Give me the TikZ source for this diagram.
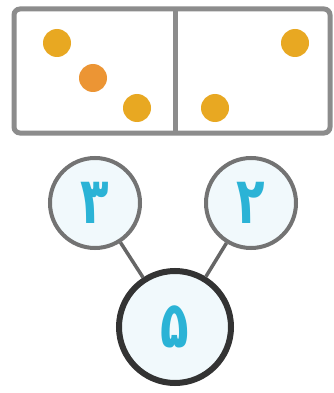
\documentclass[tikz,border=0pt]{standalone}
\usepackage{fontspec}
\newfontfamily\fadigits[Script=Arabic]{DejaVu Sans}
\definecolor{dotgold}{HTML}{E8A822}
\definecolor{dotorange}{HTML}{EC9534}
\definecolor{digitcyan}{HTML}{2BB3D6}
\definecolor{boxgray}{HTML}{8C8C8C}
\definecolor{circfill}{HTML}{F1F9FC}
\newcommand{\fadig}[1]{\scalebox{0.9}[1.25]{#1}}
\begin{document}
\begin{tikzpicture}[x=1pt,y=-1pt,
  dot/.style={circle,fill=#1,minimum size=28pt,inner sep=0pt},
  topcirc/.style={circle,draw=black!55,line width=4pt,fill=circfill,minimum size=90pt,inner sep=0pt,
     font=\fadigits\bfseries\fontsize{52}{52}\selectfont,text=digitcyan},
  botcirc/.style={circle,draw=black!80,line width=6pt,fill=circfill,minimum size=112pt,inner sep=0pt,
     font=\fadigits\bfseries\fontsize{52}{52}\selectfont,text=digitcyan},
  link/.style={draw=black!60,line width=3.5pt}]
\useasboundingbox (0,0) rectangle (334,393);
\fill[white] (0,0) rectangle (334,393);
% domino
\draw[boxgray,line width=5pt,fill=white,rounded corners=6pt] (14,9) rectangle (330,133);
\draw[boxgray,line width=5pt] (175,9) -- (175,133);
\node[dot=dotgold] (d1) at (57,43) {};
\node[dot=dotorange] (d2) at (93,78) {};
\node[dot=dotgold] (d3) at (137,108) {};
\node[dot=dotgold] (d4) at (295,43) {};
\node[dot=dotgold] (d5) at (215,108) {};
% number bond
\node[botcirc] (c5) at (175,327) {\fadig{۵}};
\node[topcirc] (c3) at (95,203) {\fadig{۳}};
\node[topcirc] (c2) at (251,203) {\fadig{۲}};
\draw[link] (c3) -- (c5);
\draw[link] (c2) -- (c5);
\end{tikzpicture}
\end{document}
